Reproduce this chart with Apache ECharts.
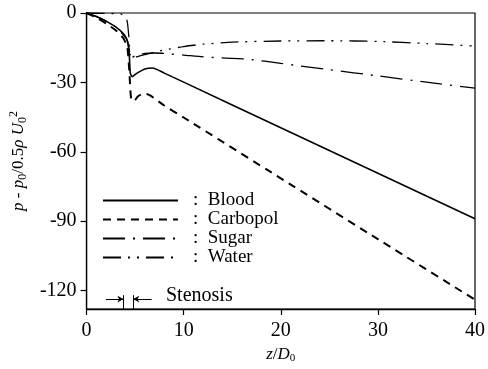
<!DOCTYPE html>
<html>
<head>
<meta charset="utf-8">
<script src="https://cdn.jsdelivr.net/npm/echarts@6/dist/echarts.min.js"></script>
<style>html,body{margin:0;padding:0;background:#fff}#c{width:488px;height:369px}</style>
</head>
<body>
<div id="c"></div>
<script>
// ---- data ----
const xTicks = [0, 10, 20, 30, 40];
const yTicks = [0, -30, -60, -90, -120];
const seriesNames = ['Blood', 'Carbopol', 'Sugar', 'Water'];

const bloodZ = [0, 1, 2, 3, 3.8, 4.2, 4.4, 4.5, 4.7, 5.2, 6, 6.8, 8, 10, 20, 30, 40];
const bloodP = [0, -1.5, -3.5, -6, -9, -12, -18, -26, -27.5, -26, -24.2, -23.8, -26, -29.9, -49.6, -69.3, -89];

const carbopolZ = [0, 1, 2, 3, 3.8, 4.2, 4.4, 4.6, 4.9, 5.3, 5.9, 6.5, 8, 10, 20, 30, 40];
const carbopolP = [0, -2, -4.5, -7.5, -11, -15, -25, -37.5, -38, -36, -34.8, -35.5, -40, -45.2, -71.5, -97.8, -124];

const sugarZ = [0, 1, 2, 3, 3.8, 4.2, 4.4, 4.6, 5, 6, 7, 8, 10, 12, 16.7, 20, 25, 30, 35, 40];
const sugarP = [0, -1.5, -3.5, -6, -9.5, -12, -16, -19.5, -18.5, -17.5, -17.3, -17.5, -18.2, -19, -20, -21.8, -24.5, -27.2, -29.9, -32.5];

const waterZ = [0, 2, 3.5, 4, 4.2, 4.35, 4.5, 4.7, 5.5, 7, 8, 10, 12, 15, 20, 25, 30, 35, 40];
const waterP = [0, -0.2, -0.4, -1.5, -4, -10, -18, -19.5, -18.5, -17, -16, -14.5, -13.5, -12.6, -12.1, -12, -12.3, -13.2, -14.3];

const stenosisZ = [3.8, 4.8];        // throat edges
const stenosisArrowZ = [2, 6.7];     // arrow tails
const stenosisP = -123.7;
const stenosisTickP = [-122, -128];

const zip = (a, b) => a.map((v, i) => [v, b[i]]);

const serif = '"Liberation Serif", "DejaVu Serif", serif';
const chart = echarts.init(document.getElementById('c'), null, {renderer: 'canvas'});

const lineStyles = {
  Blood:    {color: '#000', width: 1.6, type: 'solid'},
  Carbopol: {color: '#000', width: 2, type: [8, 6]},
  Sugar:    {color: '#000', width: 1.3, type: [22, 8, 2, 8]},
  Water:    {color: '#000', width: 1.3, type: [18, 7, 2, 7, 2, 7]}
};
const dataMap = {
  Blood: zip(bloodZ, bloodP),
  Carbopol: zip(carbopolZ, carbopolP),
  Sugar: zip(sugarZ, sugarP),
  Water: zip(waterZ, waterP)
};

const series = seriesNames.map(n => ({
  name: n, type: 'line', data: dataMap[n], symbol: 'none', smooth: 0.2,
  lineStyle: lineStyles[n], itemStyle: {color: '#000'}, animation: false, z: 3
}));

series.push({
  name: 'stenosis', type: 'line', data: [], symbol: 'none', animation: false,
  markLine: {
    silent: true, animation: false,
    lineStyle: {color: '#000', width: 1, type: 'solid'},
    label: {show: false},
    data: [
      [{coord: [stenosisArrowZ[0], stenosisP], symbol: 'none'}, {coord: [stenosisZ[0], stenosisP], symbol: 'arrow', symbolSize: [5, 6]}],
      [{coord: [stenosisArrowZ[1], stenosisP], symbol: 'none'}, {coord: [stenosisZ[1], stenosisP], symbol: 'arrow', symbolSize: [5, 6]}],
      [{coord: [stenosisZ[0], stenosisTickP[0]], symbol: 'none'}, {coord: [stenosisZ[0], stenosisTickP[1]], symbol: 'none'}],
      [{coord: [stenosisZ[1], stenosisTickP[0]], symbol: 'none'}, {coord: [stenosisZ[1], stenosisTickP[1]], symbol: 'none'}]
    ]
  }
});

chart.setOption({
  backgroundColor: '#fff',
  animation: false,
  grid: {left: 83, right: 6, top: 13, bottom: 51, show: true, borderColor: '#000', borderWidth: 1.2, backgroundColor: 'transparent'},
  xAxis: {
    type: 'value', min: 0, max: 40, interval: 10,
    axisLine: {show: true, onZero: false, lineStyle: {color: '#000', width: 1.3}},
    axisTick: {show: true, inside: false, length: 6, lineStyle: {color: '#000', width: 1.2}},
    axisLabel: {color: '#000', fontFamily: serif, fontSize: 20, margin: 12, customValues: xTicks},
    splitLine: {show: false},
    name: '{i|z}/{i|D}{s|0}', nameLocation: 'middle', nameGap: 36,
    nameTextStyle: {color: '#000', fontFamily: serif, fontSize: 17,
      rich: {i: {fontStyle: 'italic', fontFamily: serif, fontSize: 17, color: '#000'},
             s: {fontFamily: serif, fontSize: 11, color: '#000', padding: [8, 0, 0, 0]}}}
  },
  yAxis: {
    type: 'value', min: -128, max: 0,
    axisLine: {show: true, onZero: false, lineStyle: {color: '#000', width: 1.3}},
    axisTick: {show: true, inside: false, length: 6, customValues: yTicks, lineStyle: {color: '#000', width: 1.2}},
    axisLabel: {color: '#000', fontFamily: serif, fontSize: 20, margin: 10, customValues: yTicks,
      formatter: v => String(v)},
    splitLine: {show: false},
    name: '{i|p} - {i|p}{s|0}/0.5{i|ρ} {i|U}{s|0}{sup|2}', nameLocation: 'middle', nameGap: 56, nameRotate: 90,
    nameTextStyle: {color: '#000', fontFamily: serif, fontSize: 17,
      rich: {i: {fontStyle: 'italic', fontFamily: serif, fontSize: 17, color: '#000'},
             s: {fontFamily: serif, fontSize: 12, color: '#000', padding: [8, 0, 0, 0]},
             sup: {fontFamily: serif, fontSize: 12, color: '#000', padding: [0, 0, 10, 0]}}}
  },
  legend: {
    data: seriesNames, orient: 'vertical', left: 97, top: 186,
    itemWidth: 75, itemHeight: 10, itemGap: 0,
    itemStyle: {opacity: 0},
    formatter: n => ':  ' + n,
    textStyle: {color: '#000', fontFamily: serif, fontSize: 19, lineHeight: 19, padding: [0, 0, 0, 10]},
    selectedMode: false
  },
  graphic: [{
    type: 'text', left: 166, top: 286,
    style: {text: 'Stenosis', fill: '#000', font: '20px "Liberation Serif", serif'}
  }],
  series: series
});
</script>
</body>
</html>
